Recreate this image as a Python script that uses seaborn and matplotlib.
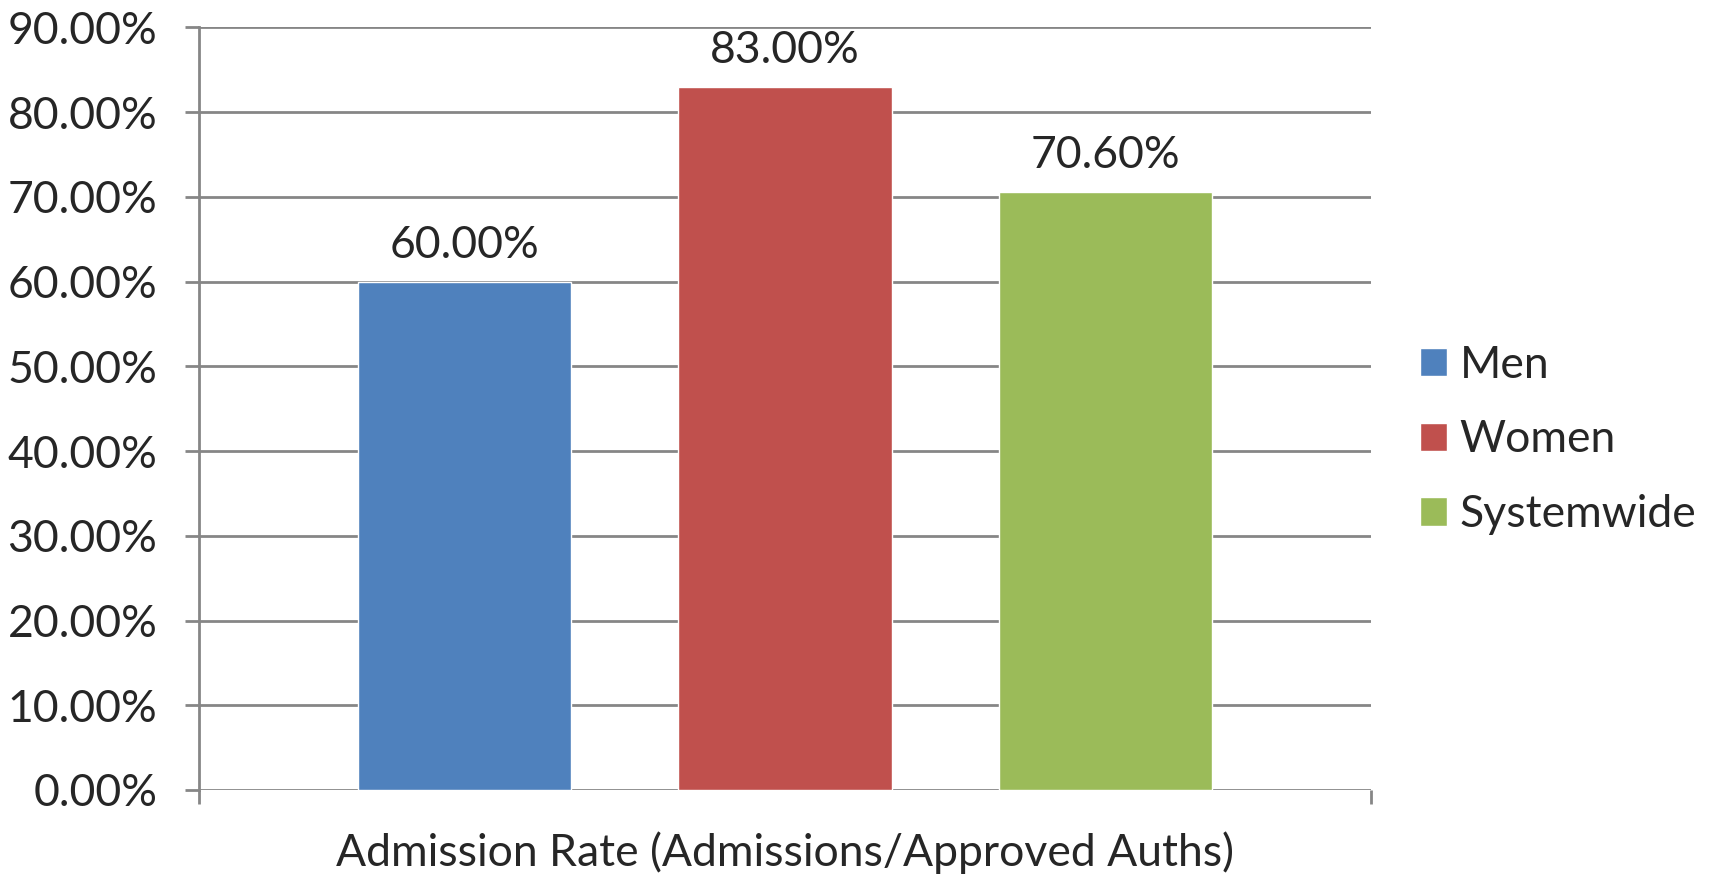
import matplotlib
matplotlib.use("Agg")
import matplotlib.pyplot as plt
import seaborn as sns
import pandas as pd
from matplotlib.ticker import FuncFormatter, FixedLocator

groups = ["Men", "Women", "Systemwide"]
rates = [0.60, 0.83, 0.706]
category = ["Admission Rate (Admissions/Approved Auths)"] * 3
y_ticks = [0.0, 0.1, 0.2, 0.3, 0.4, 0.5, 0.6, 0.7, 0.8, 0.9]
colors = ["#4F81BD", "#C0504D", "#9BBB59"]

sns.set_theme(style="white")
plt.rcParams['font.family'] = ['Lato', 'DejaVu Sans']

df = pd.DataFrame({"category": category, "group": groups, "rate": rates})

W, H = 1713, 876
fig = plt.figure(figsize=(W / 100, H / 100), dpi=100)
ax = fig.add_axes([199 / W, (H - 790) / H, 1172 / W, (790 - 27.3) / H])

sns.barplot(data=df, x="category", y="rate", hue="group", hue_order=groups,
            palette=colors, width=0.82, gap=0.333, saturation=1, ax=ax,
            errorbar=None, legend=True)

FS = 32
grid_c = "#868686"
ax.set_ylim(0, 0.9)
ax.set_xlim(-0.5, 0.5)
ax.yaxis.set_major_locator(FixedLocator(y_ticks))
ax.yaxis.set_major_formatter(FuncFormatter(lambda v, p: f"{v*100:.2f}%"))
ax.grid(axis="y", color=grid_c, linewidth=2)
ax.set_axisbelow(True)
for s in ["top", "right", "bottom"]:
    ax.spines[s].set_visible(False)
ax.spines["left"].set_color(grid_c)
ax.spines["left"].set_linewidth(2)
ax.tick_params(axis="y", which="major", length=10, width=2, color=grid_c,
               labelsize=FS, pad=20, left=True)
ax.tick_params(axis="x", which="major", length=0, labelsize=FS, pad=30)
ax.xaxis.set_minor_locator(FixedLocator([-0.5, 0.5]))
ax.tick_params(axis="x", which="minor", length=10, width=2, color=grid_c, bottom=True)
ax.set_xlabel("")
ax.set_ylabel("")

for cont in ax.containers:
    ax.bar_label(cont, labels=[f"{v*100:.2f}%" for v in cont.datavalues],
                 fontsize=FS, padding=11)

handles, labels = ax.get_legend_handles_labels()
ax.legend(handles, labels, loc="center left",
          bbox_to_anchor=(1420 / W, 1 - 440 / H), bbox_transform=fig.transFigure,
          frameon=False, fontsize=FS, handlelength=0.61, handleheight=0.61,
          handletextpad=0.28, labelspacing=0.76, borderpad=0, borderaxespad=0)

fig.savefig("out.png", dpi=100)
